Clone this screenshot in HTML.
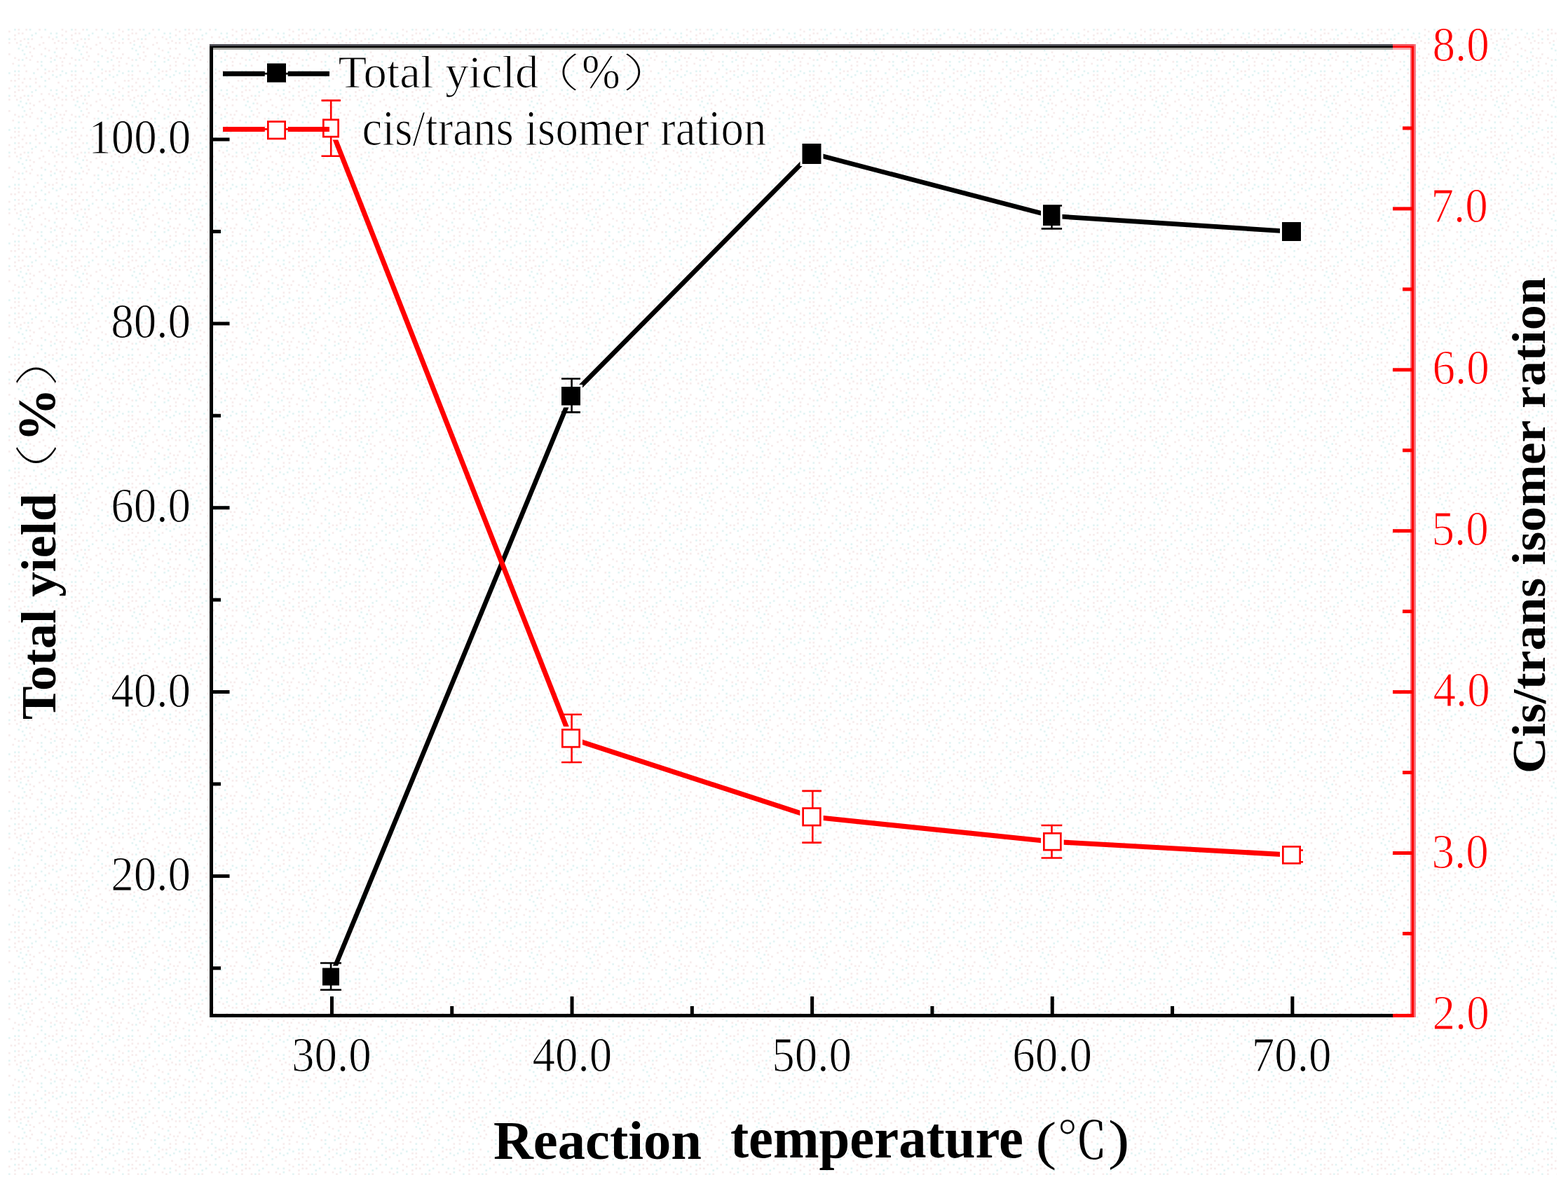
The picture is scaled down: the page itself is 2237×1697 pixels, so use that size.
<!DOCTYPE html>
<html><head><meta charset="utf-8"><title>Total yield and cis/trans isomer ratio vs reaction temperature</title>
<style>
html,body{margin:0;padding:0;background:#fff;}
body{width:2237px;height:1697px;overflow:hidden;}
svg{display:block;}
</style></head><body>
<svg width="2237" height="1697" viewBox="0 0 2237 1697">
<rect x="0" y="0" width="2237" height="1697" fill="#fff"/>
<defs><pattern id="tex" x="12" y="41" width="81" height="81" patternUnits="userSpaceOnUse"><rect x="35.1" y="62.1" width="2.7" height="2.7" fill="#e2f4f4"/><rect x="51.3" y="37.8" width="2.7" height="2.7" fill="#e2f4f4"/><rect x="75.6" y="0" width="2.7" height="2.7" fill="#f7ecec"/><rect x="5.4" y="48.6" width="2.7" height="2.7" fill="#f7ecec"/><rect x="64.8" y="43.2" width="2.7" height="2.7" fill="#e2f4f4"/><rect x="13.5" y="70.2" width="2.7" height="2.7" fill="#f7ecec"/><rect x="8.1" y="0" width="2.7" height="2.7" fill="#e2f4f4"/><rect x="75.6" y="8.1" width="2.7" height="2.7" fill="#f7ecec"/><rect x="8.1" y="64.8" width="2.7" height="2.7" fill="#f7ecec"/><rect x="13.5" y="43.2" width="2.7" height="2.7" fill="#f7ecec"/><rect x="13.5" y="27" width="2.7" height="2.7" fill="#e2f4f4"/><rect x="29.7" y="32.4" width="2.7" height="2.7" fill="#f7ecec"/><rect x="32.4" y="37.8" width="2.7" height="2.7" fill="#f7ecec"/><rect x="18.9" y="43.2" width="2.7" height="2.7" fill="#e2f4f4"/><rect x="29.7" y="70.2" width="2.7" height="2.7" fill="#f7ecec"/><rect x="13.5" y="5.4" width="2.7" height="2.7" fill="#f7ecec"/><rect x="21.6" y="35.1" width="2.7" height="2.7" fill="#e2f4f4"/><rect x="75.6" y="59.4" width="2.7" height="2.7" fill="#e2f4f4"/><rect x="62.1" y="59.4" width="2.7" height="2.7" fill="#f7ecec"/><rect x="16.2" y="16.2" width="2.7" height="2.7" fill="#f7ecec"/><rect x="2.7" y="72.9" width="2.7" height="2.7" fill="#f7ecec"/><rect x="59.4" y="5.4" width="2.7" height="2.7" fill="#e2f4f4"/><rect x="0" y="35.1" width="2.7" height="2.7" fill="#f7ecec"/><rect x="18.9" y="75.6" width="2.7" height="2.7" fill="#f7ecec"/><rect x="67.5" y="37.8" width="2.7" height="2.7" fill="#f7ecec"/><rect x="37.8" y="70.2" width="2.7" height="2.7" fill="#f7ecec"/><rect x="45.9" y="51.3" width="2.7" height="2.7" fill="#e2f4f4"/><rect x="24.3" y="0" width="2.7" height="2.7" fill="#f7ecec"/><rect x="51.3" y="72.9" width="2.7" height="2.7" fill="#e2f4f4"/><rect x="45.9" y="10.8" width="2.7" height="2.7" fill="#f7ecec"/><rect x="78.3" y="40.5" width="2.7" height="2.7" fill="#f7ecec"/><rect x="8.1" y="72.9" width="2.7" height="2.7" fill="#f7ecec"/><rect x="8.1" y="8.1" width="2.7" height="2.7" fill="#f7ecec"/><rect x="70.2" y="75.6" width="2.7" height="2.7" fill="#f7ecec"/><rect x="51.3" y="0" width="2.7" height="2.7" fill="#e2f4f4"/><rect x="64.8" y="32.4" width="2.7" height="2.7" fill="#e2f4f4"/><rect x="67.5" y="51.3" width="2.7" height="2.7" fill="#f7ecec"/><rect x="67.5" y="56.7" width="2.7" height="2.7" fill="#f7ecec"/><rect x="0" y="18.9" width="2.7" height="2.7" fill="#f7ecec"/><rect x="24.3" y="24.3" width="2.7" height="2.7" fill="#e2f4f4"/><rect x="24.3" y="59.4" width="2.7" height="2.7" fill="#f7ecec"/><rect x="56.7" y="10.8" width="2.7" height="2.7" fill="#f7ecec"/><rect x="45.9" y="67.5" width="2.7" height="2.7" fill="#e2f4f4"/><rect x="40.5" y="45.9" width="2.7" height="2.7" fill="#f7ecec"/><rect x="45.9" y="45.9" width="2.7" height="2.7" fill="#e2f4f4"/><rect x="13.5" y="59.4" width="2.7" height="2.7" fill="#e2f4f4"/><rect x="0" y="62.1" width="2.7" height="2.7" fill="#e2f4f4"/><rect x="75.6" y="18.9" width="2.7" height="2.7" fill="#f7ecec"/><rect x="51.3" y="56.7" width="2.7" height="2.7" fill="#e2f4f4"/><rect x="70.2" y="16.2" width="2.7" height="2.7" fill="#f7ecec"/><rect x="37.8" y="75.6" width="2.7" height="2.7" fill="#f7ecec"/><rect x="27" y="18.9" width="2.7" height="2.7" fill="#f7ecec"/><rect x="27" y="13.5" width="2.7" height="2.7" fill="#e2f4f4"/><rect x="32.4" y="8.1" width="2.7" height="2.7" fill="#e2f4f4"/><rect x="35.1" y="27" width="2.7" height="2.7" fill="#f7ecec"/><rect x="29.7" y="43.2" width="2.7" height="2.7" fill="#f7ecec"/><rect x="51.3" y="27" width="2.7" height="2.7" fill="#f7ecec"/><rect x="75.6" y="51.3" width="2.7" height="2.7" fill="#f7ecec"/><rect x="21.6" y="70.2" width="2.7" height="2.7" fill="#f7ecec"/><rect x="13.5" y="0" width="2.7" height="2.7" fill="#f7ecec"/><rect x="8.1" y="40.5" width="2.7" height="2.7" fill="#f7ecec"/><rect x="62.1" y="13.5" width="2.7" height="2.7" fill="#f7ecec"/><rect x="62.1" y="64.8" width="2.7" height="2.7" fill="#e2f4f4"/><rect x="72.9" y="40.5" width="2.7" height="2.7" fill="#f7ecec"/><rect x="8.1" y="59.4" width="2.7" height="2.7" fill="#e2f4f4"/><rect x="13.5" y="64.8" width="2.7" height="2.7" fill="#f7ecec"/><rect x="67.5" y="27" width="2.7" height="2.7" fill="#f7ecec"/><rect x="29.7" y="0" width="2.7" height="2.7" fill="#e2f4f4"/><rect x="13.5" y="51.3" width="2.7" height="2.7" fill="#e2f4f4"/><rect x="56.7" y="29.7" width="2.7" height="2.7" fill="#f7ecec"/><rect x="43.2" y="21.6" width="2.7" height="2.7" fill="#f7ecec"/><rect x="0" y="2.7" width="2.7" height="2.7" fill="#f7ecec"/><rect x="45.9" y="35.1" width="2.7" height="2.7" fill="#f7ecec"/><rect x="8.1" y="13.5" width="2.7" height="2.7" fill="#f7ecec"/><rect x="16.2" y="21.6" width="2.7" height="2.7" fill="#e2f4f4"/><rect x="40.5" y="56.7" width="2.7" height="2.7" fill="#f7ecec"/><rect x="67.5" y="10.8" width="2.7" height="2.7" fill="#e2f4f4"/><rect x="59.4" y="40.5" width="2.7" height="2.7" fill="#f7ecec"/><rect x="21.6" y="51.3" width="2.7" height="2.7" fill="#f7ecec"/><rect x="72.9" y="64.8" width="2.7" height="2.7" fill="#e2f4f4"/><rect x="43.2" y="0" width="2.7" height="2.7" fill="#f7ecec"/><rect x="51.3" y="62.1" width="2.7" height="2.7" fill="#f7ecec"/><rect x="67.5" y="5.4" width="2.7" height="2.7" fill="#e2f4f4"/><rect x="67.5" y="67.5" width="2.7" height="2.7" fill="#e2f4f4"/><rect x="56.7" y="59.4" width="2.7" height="2.7" fill="#f7ecec"/><rect x="75.6" y="27" width="2.7" height="2.7" fill="#f7ecec"/><rect x="48.6" y="18.9" width="2.7" height="2.7" fill="#f7ecec"/><rect x="59.4" y="45.9" width="2.7" height="2.7" fill="#e2f4f4"/><rect x="18.9" y="5.4" width="2.7" height="2.7" fill="#f7ecec"/><rect x="21.6" y="13.5" width="2.7" height="2.7" fill="#f7ecec"/><rect x="24.3" y="40.5" width="2.7" height="2.7" fill="#f7ecec"/><rect x="18.9" y="29.7" width="2.7" height="2.7" fill="#e2f4f4"/><rect x="64.8" y="18.9" width="2.7" height="2.7" fill="#f7ecec"/><rect x="37.8" y="5.4" width="2.7" height="2.7" fill="#e2f4f4"/><rect x="75.6" y="45.9" width="2.7" height="2.7" fill="#f7ecec"/><rect x="32.4" y="13.5" width="2.7" height="2.7" fill="#f7ecec"/><rect x="0" y="13.5" width="2.7" height="2.7" fill="#e2f4f4"/><rect x="29.7" y="24.3" width="2.7" height="2.7" fill="#f7ecec"/><rect x="56.7" y="70.2" width="2.7" height="2.7" fill="#f7ecec"/><rect x="10.8" y="18.9" width="2.7" height="2.7" fill="#f7ecec"/></pattern></defs>
<rect x="12" y="41" width="2209" height="1636" fill="url(#tex)"/>
<polyline points="472,1394.3 814.5,565.3 1158,218.8 1500.3,308.3 1842.5,330.5" fill="none" stroke="#000" stroke-width="6.7"/>
<polyline points="472,183 814.5,1053.8 1158,1165.8 1501.4,1201.3 1842.5,1220.2" fill="none" stroke="#ff0000" stroke-width="7.1"/>
<rect x="457" y="1378.5" width="30" height="31" fill="#fff"/>
<rect x="798" y="549" width="33" height="32.5" fill="#fff"/>
<rect x="1141.5" y="202" width="33" height="35" fill="#fff"/>
<rect x="1485" y="290.6" width="30.5" height="34.4" fill="#fff"/>
<rect x="1826" y="314" width="33" height="33" fill="#fff"/>
<rect x="457" y="166.5" width="30" height="33" fill="#fff"/>
<rect x="798" y="1037" width="33" height="33.5" fill="#fff"/>
<rect x="1141.3" y="1149.2" width="33.4" height="33.2" fill="#fff"/>
<rect x="1485" y="1185" width="32.7" height="32.5" fill="#fff"/>
<rect x="1826" y="1204" width="33" height="32.6" fill="#fff"/>
<path d="M472.1 1374.5V1412.7M457 1374.5H487M457 1412.7H487" stroke="#000" stroke-width="2.6" fill="none"/>
<path d="M815.6 540.5V588.4M801 540.5H828M801 588.4H828" stroke="#000" stroke-width="2.6" fill="none"/>
<path d="M1500.5 293.5V326.4M1488 293.5H1515.1M1485.7 326.4H1515.1" stroke="#000" stroke-width="2.6" fill="none"/>
<path d="M472.2 143.4V222.7M458.5 143.4H486M458.5 222.7H486" stroke="#ff0000" stroke-width="2.6" fill="none"/>
<path d="M815.6 1019.7V1088M801 1019.7H830M801 1088H830" stroke="#ff0000" stroke-width="2.6" fill="none"/>
<path d="M1159.3 1128.9V1202.6M1144.3 1128.9H1172M1144.3 1202.6H1172" stroke="#ff0000" stroke-width="2.6" fill="none"/>
<path d="M1500.5 1178V1224.5M1485.5 1178H1515.3M1485.5 1224.5H1515.3" stroke="#ff0000" stroke-width="2.6" fill="none"/>
<path d="M1844 1213.5V1230.2M1829 1213.5H1859M1829 1230.2H1859" stroke="#ff0000" stroke-width="2.6" fill="none"/>
<rect x="460" y="1381.5" width="24" height="25" fill="#000"/>
<rect x="801" y="552" width="27" height="26.5" fill="#000"/>
<rect x="1144.5" y="205" width="27" height="29" fill="#000"/>
<rect x="1488" y="293.6" width="24.5" height="28.4" fill="#000"/>
<rect x="1829" y="317" width="27" height="27" fill="#000"/>
<rect x="461.35" y="170.85" width="21.3" height="24.3" fill="#fff" stroke="#ff0000" stroke-width="2.7"/>
<rect x="802.35" y="1041.35" width="24.3" height="24.8" fill="#fff" stroke="#ff0000" stroke-width="2.7"/>
<rect x="1145.65" y="1153.55" width="24.7" height="24.5" fill="#fff" stroke="#ff0000" stroke-width="2.7"/>
<rect x="1489.35" y="1189.35" width="24" height="23.8" fill="#fff" stroke="#ff0000" stroke-width="2.7"/>
<rect x="1830.35" y="1208.35" width="24.3" height="23.9" fill="#fff" stroke="#ff0000" stroke-width="2.7"/>
<path d="M318 105.2H377.8M410.8 105.2H470" stroke="#000" stroke-width="7"/>
<path d="M377 105.2H412" stroke="#000" stroke-width="2.7"/>
<rect x="381" y="90.5" width="27" height="27" fill="#000"/>
<path d="M318 184.4H377.8M410.8 184.4H470" stroke="#ff0000" stroke-width="7"/>
<path d="M377 184.4H412" stroke="#ff0000" stroke-width="2.7"/>
<rect x="382.35" y="173.55" width="24.3" height="24.4" fill="#fff" stroke="#ff0000" stroke-width="2.7"/>
<rect x="299" y="63.5" width="5" height="1388.5" fill="#000"/>
<rect x="299" y="196.5" width="28.5" height="5" fill="#000"/>
<rect x="299" y="459.35" width="28.5" height="5" fill="#000"/>
<rect x="299" y="722.2" width="28.5" height="5" fill="#000"/>
<rect x="299" y="985.05" width="28.5" height="5" fill="#000"/>
<rect x="299" y="1247.9" width="28.5" height="5" fill="#000"/>
<rect x="299" y="327.93" width="16" height="5" fill="#000"/>
<rect x="299" y="590.77" width="16" height="5" fill="#000"/>
<rect x="299" y="853.62" width="16" height="5" fill="#000"/>
<rect x="299" y="1116.47" width="16" height="5" fill="#000"/>
<rect x="299" y="1379.33" width="16" height="5" fill="#000"/>
<rect x="299" y="1447" width="1688" height="5" fill="#000"/>
<rect x="470.95" y="1422.2" width="5" height="25.8" fill="#000"/>
<rect x="813.55" y="1422.2" width="5" height="25.8" fill="#000"/>
<rect x="1156.15" y="1422.2" width="5" height="25.8" fill="#000"/>
<rect x="1498.75" y="1422.2" width="5" height="25.8" fill="#000"/>
<rect x="1841.35" y="1422.2" width="5" height="25.8" fill="#000"/>
<rect x="642.25" y="1436" width="5" height="12" fill="#000"/>
<rect x="984.85" y="1436" width="5" height="12" fill="#000"/>
<rect x="1327.45" y="1436" width="5" height="12" fill="#000"/>
<rect x="1670.05" y="1436" width="5" height="12" fill="#000"/>
<rect x="299" y="63" width="1688" height="3" fill="#505058"/>
<rect x="299" y="65.8" width="1688" height="2.4" fill="#000"/>
<rect x="304" y="68" width="1683" height="2.9" fill="#9c9c96"/>
<rect x="2012" y="63" width="7.8" height="1389" fill="#f66d78"/>
<rect x="2014" y="63" width="3" height="1389" fill="#ff0000"/>
<rect x="1987" y="1447" width="30" height="5" fill="#ff0000"/>
<rect x="1987" y="63" width="30" height="3" fill="#f2525c"/>
<rect x="1987" y="65.8" width="30" height="2.4" fill="#ff0000"/>
<rect x="1987" y="68" width="25" height="2.9" fill="#f7a3a8"/>
<rect x="1987" y="295.4" width="27" height="5" fill="#ff0000"/>
<rect x="1987" y="525.3" width="27" height="5" fill="#ff0000"/>
<rect x="1987" y="755.2" width="27" height="5" fill="#ff0000"/>
<rect x="1987" y="985.1" width="27" height="5" fill="#ff0000"/>
<rect x="1987" y="1215" width="27" height="5" fill="#ff0000"/>
<rect x="2001" y="180.45" width="13" height="5" fill="#ff0000"/>
<rect x="2001" y="410.35" width="13" height="5" fill="#ff0000"/>
<rect x="2001" y="640.25" width="13" height="5" fill="#ff0000"/>
<rect x="2001" y="870.15" width="13" height="5" fill="#ff0000"/>
<rect x="2001" y="1100.05" width="13" height="5" fill="#ff0000"/>
<rect x="2001" y="1329.95" width="13" height="5" fill="#ff0000"/>
<g transform="matrix(1 0 0 1.06 26.15 6.53)"><text x="100" y="200" font-family="Liberation Serif, 'Times New Roman', serif" font-size="65" fill="#000" stroke="#fff" stroke-width="1">100.0</text></g>
<g transform="matrix(1 0 0 1.06 58.15 269.88)"><text x="100" y="200" font-family="Liberation Serif, 'Times New Roman', serif" font-size="65" fill="#000" stroke="#fff" stroke-width="1">80.0</text></g>
<g transform="matrix(1 0 0 1.06 58.15 533.13)"><text x="100" y="200" font-family="Liberation Serif, 'Times New Roman', serif" font-size="65" fill="#000" stroke="#fff" stroke-width="1">60.0</text></g>
<g transform="matrix(1 0 0 1.06 58.15 796.58)"><text x="100" y="200" font-family="Liberation Serif, 'Times New Roman', serif" font-size="65" fill="#000" stroke="#fff" stroke-width="1">40.0</text></g>
<g transform="matrix(1 0 0 1.06 58.15 1059.28)"><text x="100" y="200" font-family="Liberation Serif, 'Times New Roman', serif" font-size="65" fill="#000" stroke="#fff" stroke-width="1">20.0</text></g>
<g transform="matrix(1 0 0 1.06 315.95 1316.93)"><text x="100" y="200" font-family="Liberation Serif, 'Times New Roman', serif" font-size="65" fill="#000" stroke="#fff" stroke-width="1">30.0</text></g>
<g transform="matrix(1 0 0 1.06 659.55 1316.93)"><text x="100" y="200" font-family="Liberation Serif, 'Times New Roman', serif" font-size="65" fill="#000" stroke="#fff" stroke-width="1">40.0</text></g>
<g transform="matrix(1 0 0 1.06 1001.15 1316.93)"><text x="100" y="200" font-family="Liberation Serif, 'Times New Roman', serif" font-size="65" fill="#000" stroke="#fff" stroke-width="1">50.0</text></g>
<g transform="matrix(1 0 0 1.06 1344.25 1316.93)"><text x="100" y="200" font-family="Liberation Serif, 'Times New Roman', serif" font-size="65" fill="#000" stroke="#fff" stroke-width="1">60.0</text></g>
<g transform="matrix(1 0 0 1.06 1685.85 1316.93)"><text x="100" y="200" font-family="Liberation Serif, 'Times New Roman', serif" font-size="65" fill="#000" stroke="#fff" stroke-width="1">70.0</text></g>
<g transform="matrix(1 0 0 1.06 1943.5 -125.02)"><text x="100" y="200" font-family="Liberation Serif, 'Times New Roman', serif" font-size="65" fill="#ff0000" stroke="#fff" stroke-width="1">8.0</text></g>
<g transform="matrix(1 0 0 1.06 1941.5 105.34)"><text x="100" y="200" font-family="Liberation Serif, 'Times New Roman', serif" font-size="65" fill="#ff0000" stroke="#fff" stroke-width="1">7.0</text></g>
<g transform="matrix(1 0 0 1.06 1943.5 335.7)"><text x="100" y="200" font-family="Liberation Serif, 'Times New Roman', serif" font-size="65" fill="#ff0000" stroke="#fff" stroke-width="1">6.0</text></g>
<g transform="matrix(1 0 0 1.06 1942.5 566.06)"><text x="100" y="200" font-family="Liberation Serif, 'Times New Roman', serif" font-size="65" fill="#ff0000" stroke="#fff" stroke-width="1">5.0</text></g>
<g transform="matrix(1 0 0 1.06 1944.5 796.42)"><text x="100" y="200" font-family="Liberation Serif, 'Times New Roman', serif" font-size="65" fill="#ff0000" stroke="#fff" stroke-width="1">4.0</text></g>
<g transform="matrix(1 0 0 1.06 1942.5 1026.78)"><text x="100" y="200" font-family="Liberation Serif, 'Times New Roman', serif" font-size="65" fill="#ff0000" stroke="#fff" stroke-width="1">3.0</text></g>
<g transform="matrix(1 0 0 1.06 1943.5 1257.14)"><text x="100" y="200" font-family="Liberation Serif, 'Times New Roman', serif" font-size="65" fill="#ff0000" stroke="#fff" stroke-width="1">2.0</text></g>
<g transform="matrix(1.0420 0 0 1.0404 378.22 -82.79)"><text x="100" y="200" font-family="Liberation Serif, 'Times New Roman', serif" font-size="64" stroke="#fff" stroke-width="1">Total yicld</text></g>
<g transform="matrix(1.3643 0 0 0.8717 602.65 -50.76)"><text x="100" y="200" font-family="'Liberation Serif', 'Noto Sans CJK SC', sans-serif" font-size="64" font-weight="100">（</text></g>
<g transform="matrix(1.0292 0 0 1.0829 727.2 -90.19)"><text x="100" y="200" font-family="Liberation Serif, 'Times New Roman', serif" font-size="64" stroke="#fff" stroke-width="1">%</text></g>
<g transform="matrix(1.3857 0 0 0.8717 750.37 -50.76)"><text x="100" y="200" font-family="'Liberation Serif', 'Noto Sans CJK SC', sans-serif" font-size="64" font-weight="100">）</text></g>
<g transform="matrix(1.0149 0 0 1.1366 414.96 -19.92)"><text x="100" y="200" font-family="Liberation Serif, 'Times New Roman', serif" font-size="64" stroke="#fff" stroke-width="1">cis/trans isomer ration</text></g>
<g transform="matrix(1.0109 0 0 1.0275 -123.25 -0.25)"><text transform="translate(200 1000) rotate(-90)" font-family="Liberation Serif, 'Times New Roman', serif" font-weight="bold" font-size="70">Total yield</text></g>
<g transform="matrix(0.8636 0 0 1.4600 -97.81 -724.74)"><text transform="translate(200 1000) rotate(-90)" font-family="'Liberation Serif', 'Noto Sans CJK SC', sans-serif" font-size="70" font-weight="100">（</text></g>
<g transform="matrix(1.0739 0 0 1.0857 -136.58 -455.41)"><text transform="translate(200 1000) rotate(-90)" font-family="Liberation Serif, 'Times New Roman', serif" font-weight="bold" font-size="70">%</text></g>
<g transform="matrix(0.8636 0 0 1.4200 -97.81 -868.62)"><text transform="translate(200 1000) rotate(-90)" font-family="'Liberation Serif', 'Noto Sans CJK SC', sans-serif" font-size="70" font-weight="100">）</text></g>
<g transform="matrix(0.9569 0 0 1.0111 2012.57 92.78)"><text transform="translate(200 1000) rotate(-90)" font-family="Liberation Serif, 'Times New Roman', serif" font-weight="bold" font-size="71">Cis/trans isomer ration</text></g>
<g transform="matrix(1.0082 0 0 1.0056 603.27 1453.29)"><text x="100" y="200" font-family="Liberation Serif, 'Times New Roman', serif" font-weight="bold" font-size="78">Reaction</text></g>
<g transform="matrix(1.0092 0 0 1.0590 940.97 1440.69)"><text x="100" y="200" font-family="Liberation Serif, 'Times New Roman', serif" font-weight="bold" font-size="78">temperature</text></g>
<g transform="matrix(1.1150 0 0 0.9575 1365.94 1462.22)"><text x="100" y="200" font-family="Liberation Serif, 'Times New Roman', serif" font-size="80">(</text></g>
<g transform="matrix(1.0293 0 0 1.0255 1404.72 1447.68)"><text x="100" y="200" font-family="'Liberation Serif', 'Noto Serif CJK SC', serif" font-size="70">℃</text></g>
<g transform="matrix(1.1400 0 0 0.9708 1466.98 1459.33)"><text x="100" y="200" font-family="Liberation Serif, 'Times New Roman', serif" font-size="80">)</text></g>
</svg>
</body></html>
